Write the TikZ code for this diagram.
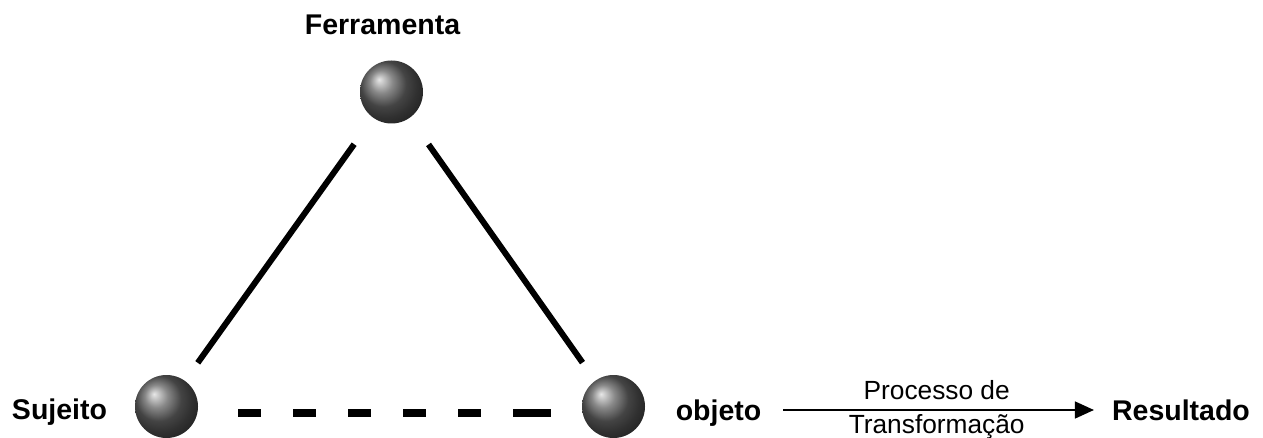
\documentclass[tikz,border=0pt]{standalone}
\usepackage{fontspec}
\setmainfont{Liberation Sans}
\usetikzlibrary{arrows.meta}
\begin{document}
\begin{tikzpicture}[x=1pt,y=-1pt,
  ball/.style={circle, minimum size=63pt, inner sep=0pt, ball color=black!62},
  lbl/.style={font=\bfseries\fontsize{28.5}{34}\selectfont, inner sep=0pt, anchor=base},
  small/.style={font=\fontsize{26.3}{31}\selectfont, inner sep=0pt},
  side/.style={line width=6pt},
  link/.style={line width=8pt,
    dash pattern=on 23pt off 32pt on 23pt off 32pt on 23pt off 32pt on 23pt off 32pt on 23pt off 32pt on 40pt off 10pt},
  arr/.style={line width=1.5pt, -{Triangle[length=19pt,width=17pt]}}]
\useasboundingbox (0,0) rectangle (1263,438);

% the three vertices of the triangle
\node[ball] (tool) at (391.5,92) {};
\node[ball] (subj) at (166.5,406.5) {};
\node[ball] (obj)  at (613.5,406.5) {};

% labels
\node[lbl] (toolname) at (382.5,35)  {Ferramenta};
\node[lbl] (subjname) at (59.5,419)  {Sujeito};
\node[lbl] (objname)  at (718.5,420) {objeto};
\node[lbl] (result)   at (1181,420)  {Resultado};

% sides of the triangle
\draw[side, shorten <=32.5pt, shorten >=22pt] (tool) -- (subj);
\draw[side, shorten <=32.5pt, shorten >=22pt] (tool) -- (obj);
\draw[link, shorten <=71.5pt, shorten >=62.5pt]
  ([yshift=-6.5pt]subj.center) -- ([yshift=-6.5pt]obj.center);

% transformation arrow
\draw[arr, shorten <=22pt, shorten >=18pt]
  ([yshift=10pt]objname.base east) -- ([yshift=10pt]result.base west)
  node[small, midway, above=9pt] {Processo de}
  node[small, midway, below=4pt] {Transformação};
\end{tikzpicture}
\end{document}
